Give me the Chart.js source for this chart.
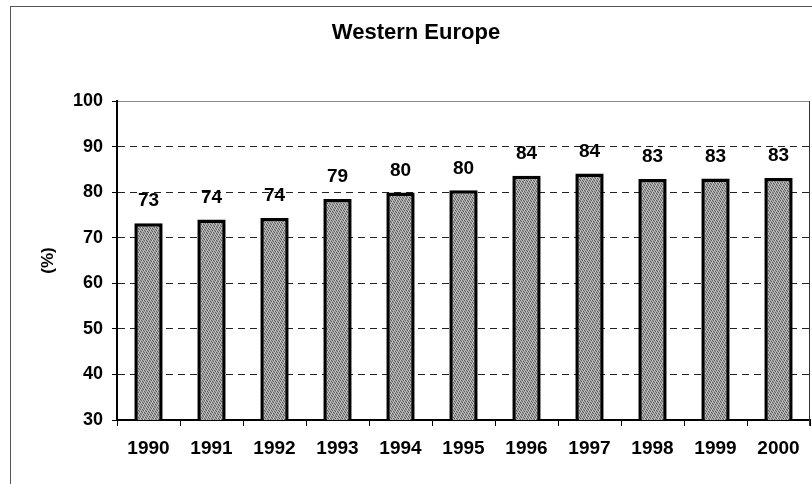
<!DOCTYPE html>
<html>
<head>
<meta charset="utf-8">
<script src="https://cdn.jsdelivr.net/npm/chart.js@4/dist/chart.umd.min.js"></script>
<style>
  html, body { margin: 0; padding: 0; background: #fff; }
  #wrap { width: 812px; height: 484px; }
</style>
</head>
<body>
<div id="wrap"><canvas id="chart" width="812" height="484"></canvas></div>
<script>
// data
const years = ['1990', '1991', '1992', '1993', '1994', '1995', '1996', '1997', '1998', '1999', '2000'];
const shareValues = [73.2, 74.0, 74.3, 78.5, 79.9, 80.4, 83.6, 84.1, 82.9, 83.0, 83.1];
const valueLabels = ['73', '74', '74', '79', '80', '80', '84', '84', '83', '83', '83'];
const yTicks = [30, 40, 50, 60, 70, 80, 90, 100];
const chartTitle = 'Western Europe';

const FONT = 'Arial, "Liberation Sans", sans-serif';

// stippled grey fill, like the scanned bars
function makeStipple() {
  const c = document.createElement('canvas');
  c.width = 7; c.height = 7;
  const g = c.getContext('2d');
  g.fillStyle = '#a4a4a4';
  g.fillRect(0, 0, 7, 7);
  for (let x = 0; x < 7; x++) {
    for (let y = 0; y < 7; y++) {
      const k = (x * 3 + y * 5) % 7;
      if (k < 2) { g.fillStyle = '#5e5e5e'; g.fillRect(x, y, 1, 1); }
      else if (k === 4) { g.fillStyle = '#d0d0d0'; g.fillRect(x, y, 1, 1); }
    }
  }
  return g.createPattern(c, 'repeat');
}

// white page, scanned frame lines, title, right edge of plot area
const framePlugin = {
  id: 'frame',
  beforeDraw(chart) {
    const ctx = chart.ctx;
    ctx.save();
    ctx.fillStyle = '#fff';
    ctx.fillRect(0, 0, chart.width, chart.height);
    ctx.strokeStyle = '#555';
    ctx.lineWidth = 1;
    ctx.beginPath();
    ctx.moveTo(10.5, 6); ctx.lineTo(10.5, chart.height);
    ctx.moveTo(10, 6.5); ctx.lineTo(chart.width, 6.5);
    ctx.stroke();

    ctx.font = 'bold 22px ' + FONT;
    ctx.fillStyle = '#000';
    ctx.textAlign = 'center';
    ctx.textBaseline = 'middle';
    ctx.fillText(chartTitle, chart.width / 2 + 10, 33);
    ctx.restore();
  },
  afterDraw(chart) {
    const a = chart.chartArea;
    const ctx = chart.ctx;
    ctx.save();
    ctx.strokeStyle = '#333';
    ctx.lineWidth = 1;
    ctx.beginPath();
    ctx.moveTo(a.right - 0.5, a.top);
    ctx.lineTo(a.right - 0.5, a.bottom + 6);
    ctx.stroke();
    ctx.restore();
  }
};

// numbers above each bar
const valueLabelPlugin = {
  id: 'valueLabels',
  afterDatasetsDraw(chart) {
    const ctx = chart.ctx;
    const meta = chart.getDatasetMeta(0);
    ctx.save();
    ctx.font = 'bold 19px ' + FONT;
    ctx.fillStyle = '#000';
    ctx.textAlign = 'center';
    ctx.textBaseline = 'middle';
    meta.data.forEach((bar, i) => {
      ctx.fillText(valueLabels[i], bar.x, bar.y - 22);
    });
    ctx.restore();
  }
};

const ctx = document.getElementById('chart');

new Chart(ctx, {
  type: 'bar',
  data: {
    labels: years,
    datasets: [{
      label: chartTitle,
      data: shareValues,
      backgroundColor: makeStipple(),
      borderColor: '#000',
      borderWidth: 3.5,
      barPercentage: 0.45,
      categoryPercentage: 1
    }]
  },
  options: {
    responsive: false,
    devicePixelRatio: 1,
    animation: false,
    layout: { padding: { left: 0, right: 2, top: 101, bottom: 0 } },
    plugins: {
      legend: { display: false },
      tooltip: { enabled: false },
      title: { display: false }
    },
    scales: {
      x: {
        grid: {
          offset: true,
          drawOnChartArea: false,
          drawTicks: true,
          tickLength: 6,
          tickColor: '#000',
          tickWidth: 1
        },
        border: { display: true, color: '#000', width: 2 },
        ticks: {
          color: '#000',
          font: { family: FONT, size: 19, weight: 'bold' },
          padding: 11,
          maxRotation: 0,
          autoSkip: false
        },
        afterFit(scale) { scale.height = 64; }
      },
      y: {
        min: 30,
        max: 100,
        afterBuildTicks(scale) { scale.ticks = yTicks.map(v => ({ value: v })); },
        grid: {
          color: c => (c.tick && c.tick.value === 100) ? '#8a8a8a' : '#222',
          lineWidth: 1,
          drawTicks: true,
          tickLength: 5,
          tickColor: '#000',
          tickWidth: 1
        },
        border: {
          display: true,
          color: '#000',
          width: 2,
          dash: c => (c.tick && c.tick.value === 100) ? [] : [7, 5]
        },
        ticks: {
          color: '#000',
          font: { family: FONT, size: 18, weight: 'bold' },
          padding: 9
        },
        title: {
          display: true,
          text: '(%)',
          color: '#000',
          font: { family: FONT, size: 17, weight: 'bold' },
          padding: { top: 38, bottom: 0 }
        },
        afterFit(scale) { scale.width = 117; }
      }
    }
  },
  plugins: [framePlugin, valueLabelPlugin]
});
</script>
</body>
</html>
